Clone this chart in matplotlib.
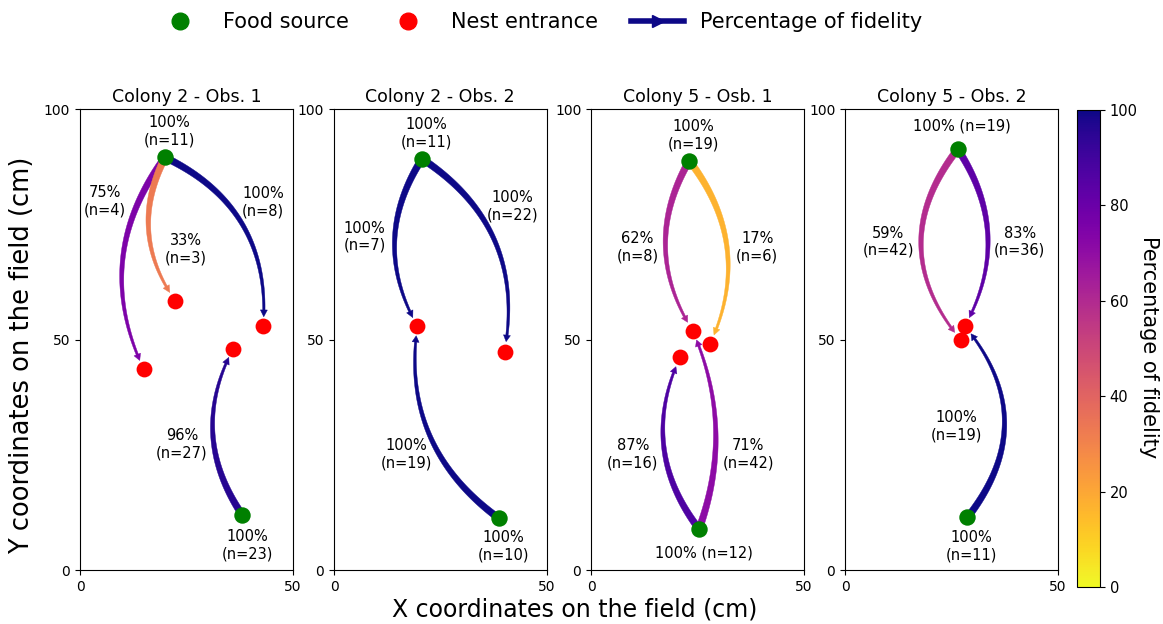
import numpy as np
import matplotlib
matplotlib.use('Agg')
import matplotlib.pyplot as plt
from matplotlib.patches import Polygon
from matplotlib.lines import Line2D
from matplotlib import colors, cm

# --- data ---
titles = ['Colony 2 - Obs. 1', 'Colony 2 - Obs. 2', 'Colony 5 - Osb. 1', 'Colony 5 - Obs. 2']

# food sources (x, y in cm), fidelity and number of ants
food_x = [[20.0, 38.2], [20.7, 38.8], [23.1, 25.4], [26.5, 28.8]]
food_y = [[89.5, 11.9], [89.2, 11.2], [88.8, 8.9], [91.3, 11.4]]
food_pct = [[100, 100], [100, 100], [100, 100], [100, 100]]
food_n = [[11, 23], [11, 10], [19, 12], [19, 11]]
food_lab_x = [[21.1, 39.3], [21.8, 39.8], [24.1, 26.5], [27.4, 29.7]]
food_lab_y = [[95.1, 5.4], [94.7, 5.1], [94.4, 3.8], [96.4, 5.1]]
food_one_line = [[False, False], [False, False], [False, True], [True, False]]

# nest entrances
nest_x = [[22.4, 43.1, 36.0, 15.0], [19.6, 40.1], [23.9, 28.0, 20.9], [28.2, 27.2]]
nest_y = [[58.4, 52.9, 48.0, 43.5], [52.9, 47.4], [51.9, 49.0, 46.1], [52.9, 49.9]]

# paths food -> nest : fidelity (%) and n
path_food = [[0, 0, 0, 1], [0, 0, 1], [0, 0, 1, 1], [0, 0, 1]]
path_nest = [[3, 0, 1, 2], [0, 1, 0], [0, 1, 2, 0], [1, 0, 0]]
path_pct = [[75, 33, 100, 96], [100, 100, 100], [62, 17, 87, 71], [59, 83, 100]]
path_n = [[4, 3, 8, 27], [7, 22, 19], [8, 6, 16, 42], [42, 36, 19]]
path_lab_x = [[5.9, 24.9, 43.1, 24.0], [7.2, 41.9, 17.1], [10.9, 39.1, 9.8, 37.0], [10.2, 41.1, 26.1]]
path_lab_y = [[79.9, 69.6, 79.7, 27.3], [72.3, 79.0, 25.1], [70.1, 70.1, 25.1, 25.1], [71.2, 71.2, 31.1]]
# curvature of each arrow (arc3 style)
path_rad = [[0.3, 0.3, -0.34, -0.3], [0.3, -0.33, -0.3], [0.3, -0.3, -0.3, 0.2], [0.4, -0.3, 0.4]]

cmap = plt.get_cmap('plasma_r')
norm = colors.Normalize(0, 100)


def fidelity_arrow(ax, start, end, pct, rad):
    # tapered curved arrow, built in pixel space then put back in data space
    to_px = ax.transData
    a = to_px.transform(start)
    b = to_px.transform(end)
    d = b - a
    c = (a + b) / 2 + rad * np.array([d[1], -d[0]])
    t = np.linspace(0, 1, 300)[:, None]
    curve = (1 - t) ** 2 * a + 2 * (1 - t) * t * c + t ** 2 * b
    tip_i = np.argmax(np.linalg.norm(curve - b, axis=1) < 10)
    tip = curve[tip_i]
    head_len, head_w = 7.0, 7.0
    base_i = np.argmax(np.linalg.norm(curve - tip, axis=1) < head_len)
    body = curve[:base_i + 1]
    tang = np.gradient(body, axis=0)
    tang /= np.linalg.norm(tang, axis=1)[:, None]
    nrm = np.column_stack([-tang[:, 1], tang[:, 0]])
    w = np.linspace(7.0, 2.3, len(body))[:, None]
    left = body + nrm * w / 2
    right = body - nrm * w / 2
    base = body[-1]
    u = (tip - base) / np.linalg.norm(tip - base)
    n = np.array([-u[1], u[0]])
    head = np.array([base + n * head_w / 2, tip, base - n * head_w / 2])
    poly = np.vstack([left, head, right[::-1]])
    poly = to_px.inverted().transform(poly)
    col = cmap(norm(pct))
    ax.add_patch(Polygon(poly, closed=True, facecolor=col, edgecolor=col, lw=0.3, zorder=2))


fig = plt.figure(figsize=(11.63, 6.24), dpi=100)

lefts = [0.0688, 0.2872, 0.5082, 0.7266]
for k in range(4):
    ax = fig.add_axes([lefts[k], 0.0865, 0.1828, 0.7388])
    ax.set_xlim(0, 50)
    ax.set_ylim(0, 100)
    ax.set_xticks([0, 50])
    ax.set_yticks([0, 50, 100])
    ax.tick_params(labelsize=10)
    ax.set_title(titles[k], fontsize=12.5, pad=5)

    for j in range(len(path_pct[k])):
        f = path_food[k][j]
        m = path_nest[k][j]
        fidelity_arrow(ax, (food_x[k][f], food_y[k][f]), (nest_x[k][m], nest_y[k][m]),
                       path_pct[k][j], path_rad[k][j])
        ax.text(path_lab_x[k][j], path_lab_y[k][j],
                '%d%%\n(n=%d)' % (path_pct[k][j], path_n[k][j]),
                ha='center', va='center', fontsize=10.5)

    ax.scatter(nest_x[k], nest_y[k], s=130, color='red', zorder=3, linewidths=0)
    ax.scatter(food_x[k], food_y[k], s=140, color='green', zorder=4, linewidths=0)

    for j in range(len(food_x[k])):
        sep = ' ' if food_one_line[k][j] else '\n'
        ax.text(food_lab_x[k][j], food_lab_y[k][j],
                '%d%%%s(n=%d)' % (food_pct[k][j], sep, food_n[k][j]),
                ha='center', va='center', fontsize=10.5)

# colorbar
cax = fig.add_axes([0.926, 0.0593, 0.0198, 0.7644])
sm = cm.ScalarMappable(norm=norm, cmap=cmap)
cb = fig.colorbar(sm, cax=cax)
cb.set_ticks([0, 20, 40, 60, 80, 100])
cb.ax.tick_params(labelsize=10.5)
fig.text(1149 / 1163, 1 - 347 / 624, 'Percentage of fidelity', rotation=270,
         ha='center', va='center', fontsize=15)

fig.text(575 / 1163, 1 - 609 / 624, 'X coordinates on the field (cm)',
         ha='center', va='center', fontsize=17)
fig.text(22 / 1163, 1 - 355 / 624, 'Y coordinates on the field (cm)',
         ha='center', va='center', rotation=90, fontsize=18.5)

# legend
handles = [
    Line2D([], [], ls='', marker='o', color='green', markersize=12),
    Line2D([], [], ls='', marker='o', color='red', markersize=12),
    Line2D([], [], color=cmap(1.0), lw=4, marker='>', markersize=9),
]
fig.legend(handles, ['Food source', 'Nest entrance', 'Percentage of fidelity'],
           loc='center', bbox_to_anchor=(0.463, 0.965), ncol=3, frameon=False,
           fontsize=15, handlelength=2.5, columnspacing=1.6)

fig.savefig('out.png', dpi=100)
